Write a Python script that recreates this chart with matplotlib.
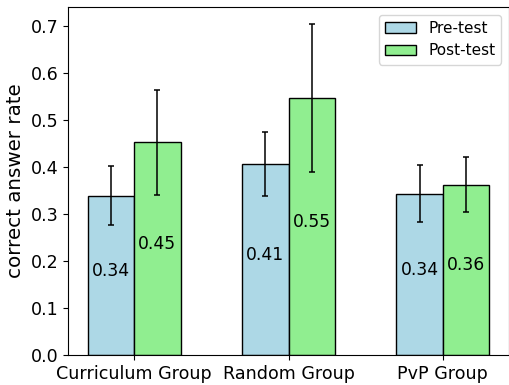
import matplotlib.pyplot as plt
import numpy as np

groups = ['Curriculum Group', 'Random Group', 'PvP Group']
pre_mean = [0.339, 0.407, 0.343]
post_mean = [0.452, 0.546, 0.362]
pre_err = [0.063, 0.068, 0.060]
post_err = [0.112, 0.157, 0.058]

x = np.arange(len(groups))
width = 0.3

fig, ax = plt.subplots(figsize=(5.1, 3.85), dpi=100)
fig.subplots_adjust(left=68/510, right=509/510, top=1-7/385, bottom=1-355/385)

ekw = dict(elinewidth=1.1, capthick=1.1)
b1 = ax.bar(x - width/2, pre_mean, width, yerr=pre_err, capsize=2.5, color='lightblue',
            edgecolor='black', label='Pre-test', error_kw=ekw)
b2 = ax.bar(x + width/2, post_mean, width, yerr=post_err, capsize=2.5, color='lightgreen',
            edgecolor='black', label='Post-test', error_kw=ekw)

for bars, vals in [(b1, pre_mean), (b2, post_mean)]:
    for b, v in zip(bars, vals):
        ax.text(b.get_x() + b.get_width()/2, v/2 + 0.01, '%.2f' % v,
                ha='center', va='center', fontsize=12.3)

ax.set_xticks(x)
ax.set_xticklabels(groups, fontsize=12.6)
ax.tick_params(axis='y', labelsize=12.6)
ax.set_ylabel('correct answer rate', fontsize=14.3)
ax.set_ylim(0, 0.74)
ax.legend(fontsize=11)

plt.savefig('out.png')
